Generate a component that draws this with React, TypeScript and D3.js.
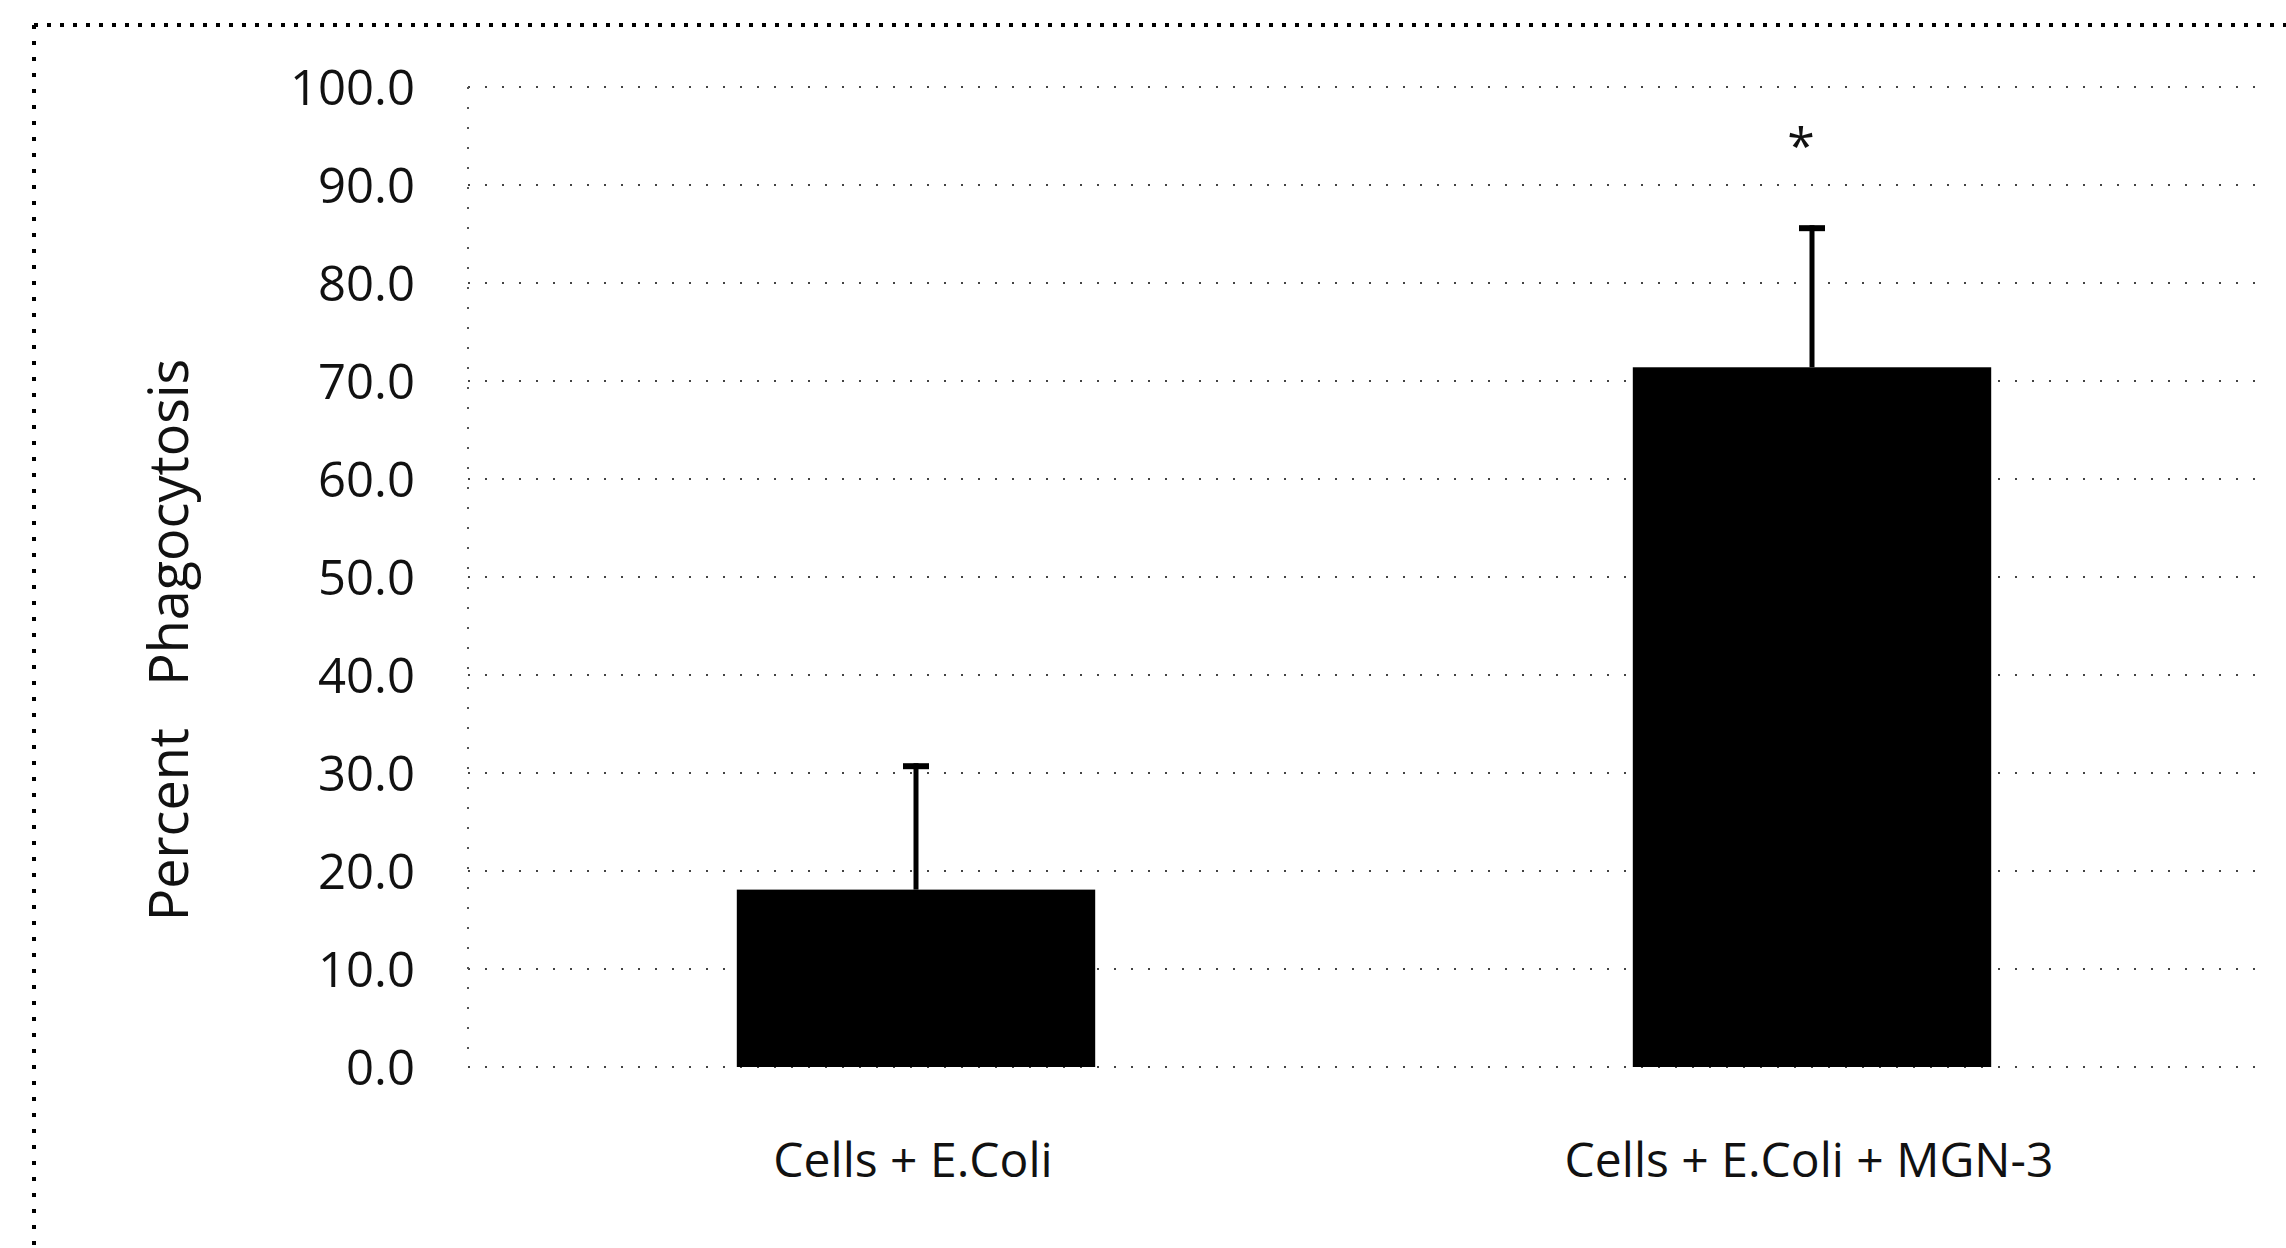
import React from 'react';
import * as d3 from 'd3';

// values
const categories = ['Cells + E.Coli', 'Cells + E.Coli + MGN-3'];
const means = [18.1, 71.4];
const errors = [12.9, 14.5];
const marks = ['', '*'];
const yTicks = [0, 10, 20, 30, 40, 50, 60, 70, 80, 90, 100];

const W = 2286;
const H = 1248;
const FONT = '"Open Sans", "DejaVu Sans", sans-serif';

const App = () => {
  const x = d3.scaleBand<string>()
    .domain(categories)
    .range([468, 2260])
    .paddingInner(0.6)
    .paddingOuter(0.3);

  const y = d3.scaleLinear()
    .domain([0, 100])
    .range([1067, 87]);

  const rows = categories.map((c, i) => ({ c, mean: means[i], err: errors[i], mark: marks[i] }));

  return (
    <svg
      width={W}
      height={H}
      viewBox={`0 0 ${W} ${H}`}
      style={{ position: 'absolute', left: 0, top: 0, background: '#fff' }}
    >
      {/* dotted frame (top + left only survive in the scan) */}
      <line x1={34} x2={W} y1={25} y2={25} stroke="#000" strokeWidth={4} strokeDasharray="4 9" />
      <line x1={34} x2={34} y1={25} y2={H} stroke="#000" strokeWidth={4} strokeDasharray="4 12" />

      {/* sparse dotted gridlines */}
      {yTicks.map(t => (
        <line
          key={`g${t}`}
          x1={x.range()[0]}
          x2={x.range()[1]}
          y1={y(t)}
          y2={y(t)}
          stroke="#444"
          strokeWidth={2}
          strokeDasharray="2 15"
        />
      ))}
      <line
        x1={x.range()[0]}
        x2={x.range()[0]}
        y1={y(100)}
        y2={y(0)}
        stroke="#555"
        strokeWidth={2}
        strokeDasharray="2 18"
      />

      {/* y tick labels */}
      {yTicks.map(t => (
        <text
          key={`t${t}`}
          x={415}
          y={y(t)}
          dy="0.36em"
          textAnchor="end"
          fontFamily={FONT}
          fontSize={49}
          fill="#111"
        >
          {d3.format('.1f')(t)}
        </text>
      ))}

      {/* y axis title */}
      <text
        transform={`translate(188,640) rotate(-90)`}
        textAnchor="middle"
        fontFamily={FONT}
        fontSize={54}
        fill="#111"
        style={{ whiteSpace: 'pre' }}
      >
        {'Percent   Phagocytosis'}
      </text>

      {/* bars, error bars, significance */}
      {rows.map(d => {
        const cx = (x(d.c) ?? 0) + x.bandwidth() / 2;
        const top = y(d.mean + d.err);
        return (
          <g key={d.c}>
            <rect
              x={x(d.c)}
              y={y(d.mean)}
              width={x.bandwidth()}
              height={y(0) - y(d.mean)}
              fill="#000"
            />
            <line x1={cx} x2={cx} y1={y(d.mean)} y2={top} stroke="#000" strokeWidth={5} />
            <line x1={cx - 13} x2={cx + 13} y1={top + 3} y2={top + 3} stroke="#000" strokeWidth={6} />
            {d.mark && (
              <text
                x={cx - 11}
                y={164}
                textAnchor="middle"
                fontFamily={FONT}
                fontSize={50}
                fill="#111"
              >
                {d.mark}
              </text>
            )}
            <text
              x={cx - 3}
              y={1177}
              textAnchor="middle"
              fontFamily={FONT}
              fontSize={48}
              fill="#111"
            >
              {d.c}
            </text>
          </g>
        );
      })}
    </svg>
  );
};

export default App;
